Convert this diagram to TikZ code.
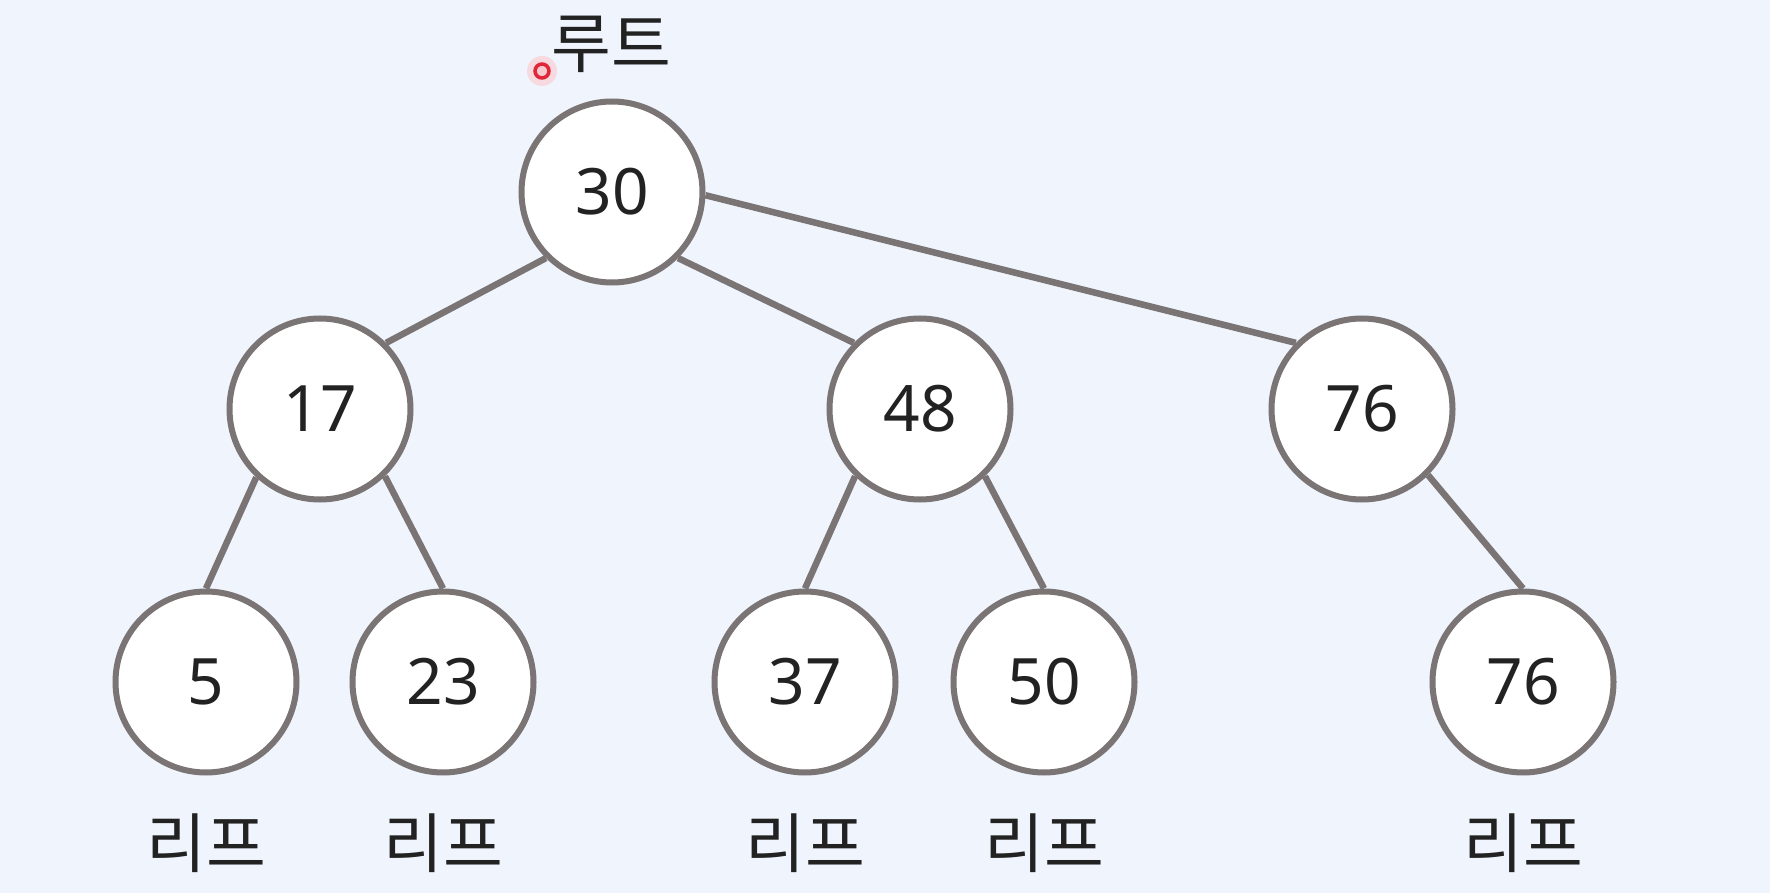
\documentclass[tikz,border=0pt]{standalone}
\usepackage{fontspec}
\setmainfont{Noto Sans CJK KR}
\newfontfamily\digitfont{Noto Sans}
\definecolor{bgblue}{HTML}{EFF4FD}
\definecolor{edgegrey}{HTML}{7A7474}
\definecolor{txt}{HTML}{222222}
\definecolor{dotred}{HTML}{E0263A}
\tikzset{
  treenode/.style={circle, draw=edgegrey, line width=6pt, fill=white, minimum size=181pt, inner sep=0pt, text=txt, font=\digitfont\fontsize{64pt}{70pt}\selectfont},
  treeedge/.style={draw=edgegrey, line width=6.5pt},
  tag/.style={text=txt, inner sep=0pt, font=\fontsize{65pt}{70pt}\selectfont},
}
\begin{document}
\begin{tikzpicture}[x=1pt, y=-1pt]
\fill[bgblue] (0,0) rectangle (1770,893);
\useasboundingbox (0,0) rectangle (1770,893);

\node[treenode] (n30) at (612,192) {30};
\node[treenode] (n17) at (320,409) {17};
\node[treenode] (n48) at (920,409) {48};
\node[treenode] (n76) at (1362,409) {76};
\node[treenode] (n5) at (206,682) {5};
\node[treenode] (n23) at (443,682) {23};
\node[treenode] (n37) at (805,682) {37};
\node[treenode] (n50) at (1044,682) {50};
\node[treenode] (n76b) at (1523,682) {76};

\draw[treeedge] (n30.south west) -- (n17.north east);
\draw[treeedge] (n30.south east) -- (n48.north west);
\draw[treeedge] (n30.-2) -- (n76.north west);
\draw[treeedge] (n17.-133) -- (n5.north);
\draw[treeedge] (n17.-46) -- (n23.north);
\draw[treeedge] (n48.-134) -- (n37.north);
\draw[treeedge] (n48.-46) -- (n50.north);
\draw[treeedge] (n76.south east) -- (n76b.north);

\node[tag] (root) at (611,44) {루트};
\node[tag] (l5) at (206,843) {리프};
\node[tag] (l23) at (443,843) {리프};
\node[tag] (l37) at (805,843) {리프};
\node[tag] (l50) at (1044,843) {리프};
\node[tag] (l76) at (1523,843) {리프};

\node[circle, fill=dotred!20, opacity=0.8, minimum size=30pt, inner sep=0pt] (glow) at (542,71) {};
\node[circle, draw=dotred, line width=3.5pt, fill=dotred!25, minimum size=14pt, inner sep=0pt] (cursor) at (542,71) {};
\end{tikzpicture}
\end{document}
